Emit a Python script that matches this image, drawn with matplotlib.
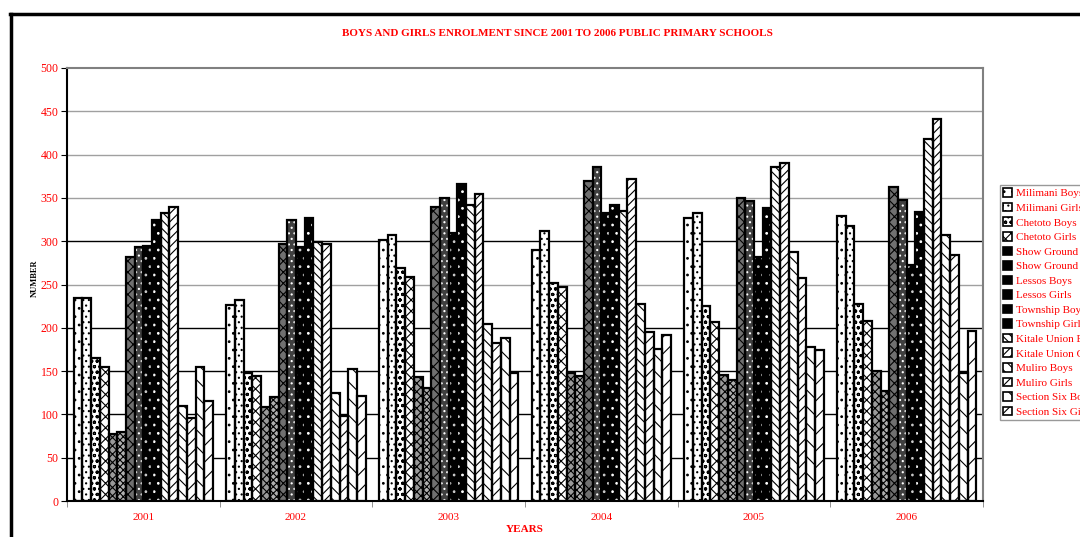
import matplotlib.pyplot as plt
import numpy as np
from matplotlib.lines import Line2D
from matplotlib.patches import Patch

plt.rcParams['font.family'] = ['Liberation Serif', 'DejaVu Serif']
plt.rcParams['hatch.linewidth'] = 0.8

# Data
years = ['2001', '2002', '2003', '2004', '2005', '2006']
series = ['Milimani Boys', 'Milimani Girls', 'Chetoto Boys', 'Chetoto Girls',
          'Show Ground Boys', 'Show Ground Girls', 'Lessos Boys', 'Lessos Girls',
          'Township Boys', 'Township Girls', 'Kitale Union Boys', 'Kitale Union Girls',
          'Muliro Boys', 'Muliro Girls', 'Section Six Boys', 'Section Six Girls']
y2001 = [234, 234, 165, 155, 77, 80, 282, 293, 295, 325, 333, 339, 110, 96, 155, 116]
y2002 = [226, 232, 148, 144, 109, 120, 297, 325, 293, 327, 299, 297, 125, 98, 153, 121]
y2003 = [301, 307, 269, 259, 143, 130, 340, 350, 310, 366, 342, 355, 204, 182, 188, 148]
y2004 = [290, 312, 252, 247, 148, 144, 370, 386, 332, 342, 335, 372, 228, 195, 176, 192]
y2005 = [327, 332, 225, 207, 145, 140, 350, 346, 282, 338, 386, 390, 288, 258, 178, 174]
y2006 = [329, 317, 227, 208, 150, 127, 363, 348, 273, 334, 418, 441, 307, 284, 148, 196]

values = np.array([y2001, y2002, y2003, y2004, y2005, y2006]).T  # series x years

# look of each series: face colour, hatch, hatch colour
styles = [
    ('white', '..', 'black'),
    ('white', '...', 'black'),
    ('white', 'ooo', 'black'),
    ('white', 'xxx', 'black'),
    ('#9a9a9a', 'xxxx', 'black'),
    ('#b0b0b0', 'xxxxx', 'black'),
    ('#707070', 'xxx', 'black'),
    ('#404040', '...', 'white'),
    ('black', '..', '#cccccc'),
    ('black', '..', 'white'),
    ('white', '\\\\\\\\', 'black'),
    ('white', '////', 'black'),
    ('white', '\\\\\\', 'black'),
    ('white', '///', 'black'),
    ('white', '\\\\', 'black'),
    ('white', '//', 'black'),
]

fig = plt.figure(figsize=(10.8, 5.37), dpi=100)
ax = fig.add_axes([67 / 1080, 1 - 501 / 537, 916 / 1080, 433 / 537])

# gridlines, some dark some light as in the original
grid_black = [50, 100, 150, 200, 300]
grid_gray = [250, 350, 400, 450]
for g in grid_black:
    ax.axhline(g, color='black', lw=1.0, zorder=0)
for g in grid_gray:
    ax.axhline(g, color='#a0a0a0', lw=1.0, zorder=0)

n = len(series)
bw = 0.057
x = np.arange(len(years))
handles = []
for i in range(n):
    fc, hatch, hc = styles[i]
    pos = x + (i - (n - 1) / 2) * bw
    ax.bar(pos, values[i], width=bw, color=fc, hatch=hatch, edgecolor=hc,
           linewidth=0, zorder=2)
    ax.bar(pos, values[i], width=bw, fill=False, edgecolor='black',
           linewidth=1.6, zorder=3)
    handles.append(Patch(facecolor='black' if fc != 'white' else 'white',
                         edgecolor='black', hatch=hatch, linewidth=1.2))

ax.set_xlim(-0.5, len(years) - 0.5)
ax.set_ylim(0, 500)
ax.set_yticks(np.arange(0, 501, 50))
ax.set_xticks(x)
ax.set_xticklabels(years)
ax.set_xticks(np.arange(-0.5, len(years), 1), minor=True)
ax.tick_params(axis='x', which='major', length=0, colors='red', labelsize=8, pad=9)
ax.tick_params(axis='x', which='minor', length=4, color='#808080', direction='out')
ax.tick_params(axis='y', length=4, color='black', labelcolor='red', labelsize=8.5, pad=2,
               direction='out')
for s in ['top', 'right']:
    ax.spines[s].set_color('#808080')
    ax.spines[s].set_linewidth(1.5)
for s in ['left', 'bottom']:
    ax.spines[s].set_color('black')
    ax.spines[s].set_linewidth(1.5)

ax.set_xlabel('YEARS', color='red', fontsize=8, fontweight='bold', labelpad=2)
fig.text(35 / 1080, 1 - 278 / 537, 'NUMBER', rotation=90, fontsize=6,
         fontweight='bold', ha='center', va='center', color='black')
fig.text(557 / 1080, 1 - 33 / 537,
         'BOYS AND GIRLS ENROLMENT SINCE 2001 TO 2006 PUBLIC PRIMARY SCHOOLS',
         color='red', fontsize=8, fontweight='bold', ha='center', va='center')

leg = fig.legend(handles, series, loc='upper left',
                 bbox_to_anchor=(1000 / 1080, 1 - 185 / 537), fontsize=8,
                 labelcolor='red', frameon=True, fancybox=False, edgecolor='#808080',
                 handlelength=0.8, handleheight=0.8, handletextpad=0.3,
                 labelspacing=0.4, borderpad=0.3, borderaxespad=0)
leg.get_frame().set_linewidth(1.0)

# outer border of the chart area
fig.add_artist(Line2D([10 / 1080, 1], [1 - 14 / 537, 1 - 14 / 537], color='black', lw=2.5))
fig.add_artist(Line2D([11 / 1080, 11 / 1080], [0, 1 - 14 / 537], color='black', lw=2.5))

fig.savefig('out.png', dpi=100)
